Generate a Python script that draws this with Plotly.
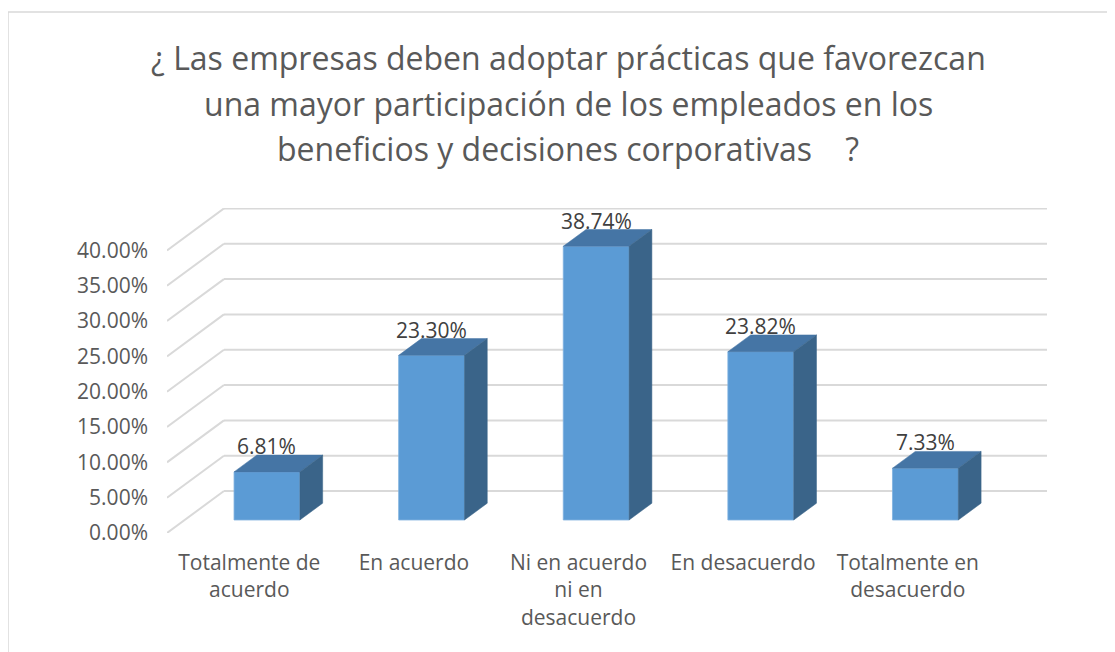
import plotly.graph_objects as go

# ---- data ----
categories = ["Totalmente de<br>acuerdo", "En acuerdo", "Ni en acuerdo<br>ni en<br>desacuerdo",
              "En desacuerdo", "Totalmente en<br>desacuerdo"]
values = [6.81, 23.30, 38.74, 23.82, 7.33]
value_labels = ["6.81%", "23.30%", "38.74%", "23.82%", "7.33%"]
tick_values = [0, 5, 10, 15, 20, 25, 30, 35, 40]
tick_labels = ["0.00%", "5.00%", "10.00%", "15.00%", "20.00%", "25.00%", "30.00%", "35.00%", "40.00%"]
title_lines = ["¿ Las empresas deben adoptar prácticas que favorezcan",
               "una mayor participación de los empleados en los",
               "beneficios y decisiones corporativas\u00a0\u00a0\u00a0 ?"]

# ---- 3D (oblique) projection parameters ----
DX = 0.346   # depth offset in category units
DY = 5.94    # depth offset in value units
DF = 0.31    # bar front depth fraction
DB = 0.71    # bar back depth fraction
W = 0.40     # bar width in category units

FRONT = "#5b9bd5"
TOP = "#4575a5"
SIDE = "#3a6489"
GRID = "#d9d9d9"

FW, FH = 1107, 644
L, R, T, B = 159, 68, 200, 119
PW = FW - L - R
PH = FH - T - B

fig = go.Figure()

# back wall + side wall grid lines
gx, gy = [], []
n = len(categories)
for v in tick_values:
    gx += [-0.5 + DX, n - 0.5 + DX, None]
    gy += [v + DY, v + DY, None]
    gx += [-0.5, -0.5 + DX, None]
    gy += [v, v + DY, None]
fig.add_trace(go.Scatter(x=gx, y=gy, mode="lines", line=dict(color=GRID, width=2),
                         hoverinfo="skip", showlegend=False))

# bars
for i, v in enumerate(values):
    xl = i + DF * DX - W / 2
    xr = i + DF * DX + W / 2
    y0 = DF * DY
    y1 = v + DF * DY
    ox = (DB - DF) * DX
    oy = (DB - DF) * DY
    fig.add_trace(go.Scatter(x=[xl, xr, xr, xl, xl], y=[y0, y0, y1, y1, y0], mode="lines",
                             fill="toself", fillcolor=FRONT, line=dict(color="#7fb1e0", width=0.8),
                             hoverinfo="skip", showlegend=False))
    fig.add_trace(go.Scatter(x=[xl, xr, xr + ox, xl + ox, xl], y=[y1, y1, y1 + oy, y1 + oy, y1],
                             mode="lines", fill="toself", fillcolor=TOP,
                             line=dict(color=TOP, width=0.5), hoverinfo="skip", showlegend=False))
    fig.add_trace(go.Scatter(x=[xr, xr + ox, xr + ox, xr, xr], y=[y1, y1 + oy, y0 + oy, y0, y1],
                             mode="lines", fill="toself", fillcolor=SIDE,
                             line=dict(color=SIDE, width=0.5), hoverinfo="skip", showlegend=False))
    fig.add_annotation(x=i + DF * DX, y=v + DB * DY, text=value_labels[i], showarrow=False,
                       xanchor="center", yanchor="bottom", yshift=-7,
                       font=dict(family="Open Sans", size=21, color="#404040"))

# title, one annotation per line (pixel centres converted to paper coords)
title_centres = [49, 95, 141]
for line, yc in zip(title_lines, title_centres):
    fig.add_annotation(text=line, showarrow=False, xref="paper", yref="paper",
                       x=(560 - L) / PW, y=(FH - B - yc) / PH, xanchor="center", yanchor="middle",
                       font=dict(family="Open Sans", size=32, color="#595959"))

fig.update_layout(
    width=FW, height=FH,
    margin=dict(l=L, r=R, t=T, b=B),
    paper_bgcolor="white", plot_bgcolor="white",
    font=dict(family="Open Sans", color="#595959"),
    xaxis=dict(range=[-0.5, n - 0.5 + DX], tickvals=list(range(n)), ticktext=categories,
               showgrid=False, zeroline=False, showline=False, ticks="",
               tickfont=dict(size=21, color="#595959"), ticklabelstandoff=15, fixedrange=True),
    yaxis=dict(range=[0, 46], tickvals=tick_values, ticktext=tick_labels,
               showgrid=False, zeroline=False, showline=False, ticks="",
               tickfont=dict(size=21, color="#595959"), ticklabelstandoff=18, fixedrange=True),
    shapes=[dict(type="rect", xref="paper", yref="paper",
                 x0=(0 - L) / PW, x1=1.3, y0=-0.6, y1=(FH - B - 4) / PH,
                 line=dict(color=GRID, width=1.5), layer="below")],
)

fig.write_html("out.html")
